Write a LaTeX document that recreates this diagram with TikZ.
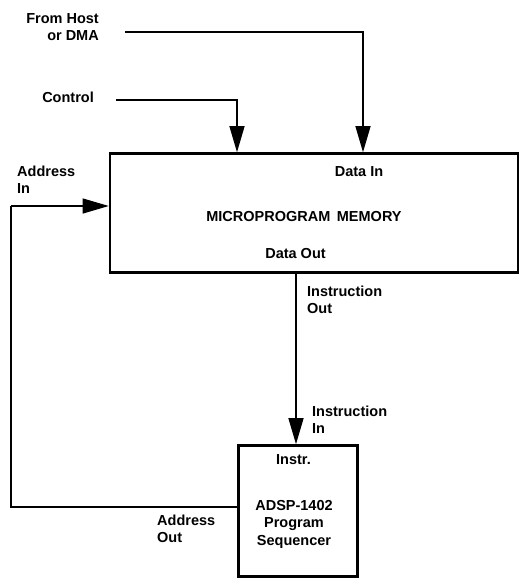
\documentclass[tikz,border=0pt]{standalone}
\usepackage{fontspec}
\setmainfont{Liberation Sans}
\usetikzlibrary{arrows.meta}

\begin{document}
\begin{tikzpicture}[x=1pt, y=-1pt,
    lbl/.style={font=\fontsize{14.5}{17.5}\selectfont\bfseries, inner sep=0pt},
    blk/.style={draw, line width=2.6pt, inner sep=0pt},
    sig/.style={line width=1.2pt},
    arr/.style={sig, -{Triangle[length=26pt, width=15pt]}}]
    \useasboundingbox (0,0) rectangle (520,579);

    % the two blocks
    \node[blk, minimum width=408pt, minimum height=119pt] (mem) at (314,213) {};
    \node[blk, minimum width=119pt, minimum height=131pt] (seq) at (298,511) {};

    \node[lbl] (din) at (359,172) {Data In};
    \node[lbl] (memlbl) at (304,217) {MICROPROGRAM\hspace{0.45em}MEMORY};
    \node[lbl] (dout) at (295.5,253.5) {Data Out};
    \node[lbl] (instr) at (293.5,460) {Instr.};
    \node[lbl, align=center] (seqlbl) at (294,524) {ADSP-1402\\Program\\Sequencer};

    % signal names
    \node[lbl, align=right, anchor=east] (host) at (99,27) {From Host\\or DMA};
    \node[lbl, anchor=east] (ctrl) at (94,97) {Control};
    \node[lbl, align=left, anchor=west] (addrin) at (17,179.5) {Address\\In};
    \node[lbl, align=left, anchor=west] (iout) at (307,300) {Instruction\\Out};
    \node[lbl, align=left, anchor=west] (iin) at (312,419.5) {Instruction\\In};
    \node[lbl, align=left, anchor=west] (aout) at (157,529) {Address\\Out};

    \coordinate (hoststart) at (125,32);
    \coordinate (ctrlstart) at (116,100);
    \coordinate (hostin) at (363,0);
    \coordinate (ctrlin) at (237,0);
    \coordinate (instrx) at (296,0);
    \coordinate (aoutstart) at (seq.west |- 0,507);
    \coordinate (loop) at (11,206);

    \draw[arr] (hoststart) -| (mem.north -| hostin);
    \draw[arr] (ctrlstart) -| (mem.north -| ctrlin);
    \draw[arr] (mem.south -| instrx) -- (seq.north -| instrx);
    \draw[sig] (aoutstart) -| (loop);
    \draw[arr] (loop) -- (loop -| mem.west);
\end{tikzpicture}
\end{document}
